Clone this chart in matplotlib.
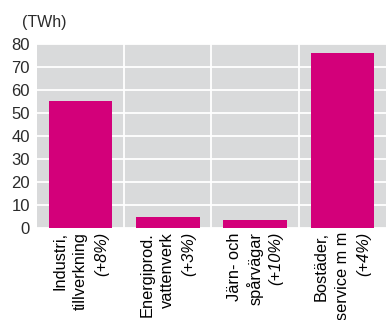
import matplotlib
matplotlib.use('Agg')
import matplotlib.pyplot as plt
import numpy as np

# 数据
categories = [
    ['Industri,', 'tillverkning', '(+8%)'],
    ['Energiprod.', 'vattenverk', '(+3%)'],
    ['Järn- och', 'spårvägar', '(+10%)'],
    ['Bostäder,', 'service m m', '(+4%)'],
]
values = [55, 5, 3.5, 76]
y_ticks = [0, 10, 20, 30, 40, 50, 60, 70, 80]
unit_label = '(TWh)'

plt.rcParams['font.family'] = ['Liberation Sans', 'DejaVu Sans']

BAR_COLOR = '#D3007A'
BG_COLOR = '#D9DADB'
TEXT_COLOR = '#2b2b2b'

fig = plt.figure(figsize=(3.88, 3.2), dpi=100)
ax = fig.add_axes([0.0954, 0.2875, 0.8994, 0.575])
ax.set_facecolor(BG_COLOR)

x = np.arange(len(values))
ax.bar(x, values, width=0.73, color=BAR_COLOR, zorder=3)

ax.set_xlim(-0.5, len(values) - 0.5)
ax.set_ylim(0, 80)
ax.set_yticks(y_ticks)
ax.set_yticklabels([str(v) for v in y_ticks], fontsize=12, color=TEXT_COLOR)
ax.set_xticks([])
ax.set_xticks(x[:-1] + 0.5, minor=True)
ax.tick_params(axis='both', which='both', length=0, pad=5)
ax.grid(True, axis='y', color='white', linewidth=1.3, zorder=1)
ax.grid(True, axis='x', which='minor', color='white', linewidth=1.3, zorder=1)
ax.set_axisbelow(True)
for s in ax.spines.values():
    s.set_visible(False)

# 分类标签（旋转90度，多列）
trans = matplotlib.transforms.blended_transform_factory(ax.transData, ax.transAxes)
step = 0.24
for i, lines in enumerate(categories):
    for j, line in enumerate(lines):
        style = 'italic' if j == 2 else 'normal'
        ax.text(i + (j - 1) * step, -0.022, line, rotation=90, ha='center', va='top',
                fontsize=11.8, style=style, color='black', transform=trans)

fig.text(22 / 388, 1 - 22 / 320, unit_label, fontsize=11.5, color=TEXT_COLOR,
         ha='left', va='center')

plt.savefig('out.png', dpi=100)
plt.close()
